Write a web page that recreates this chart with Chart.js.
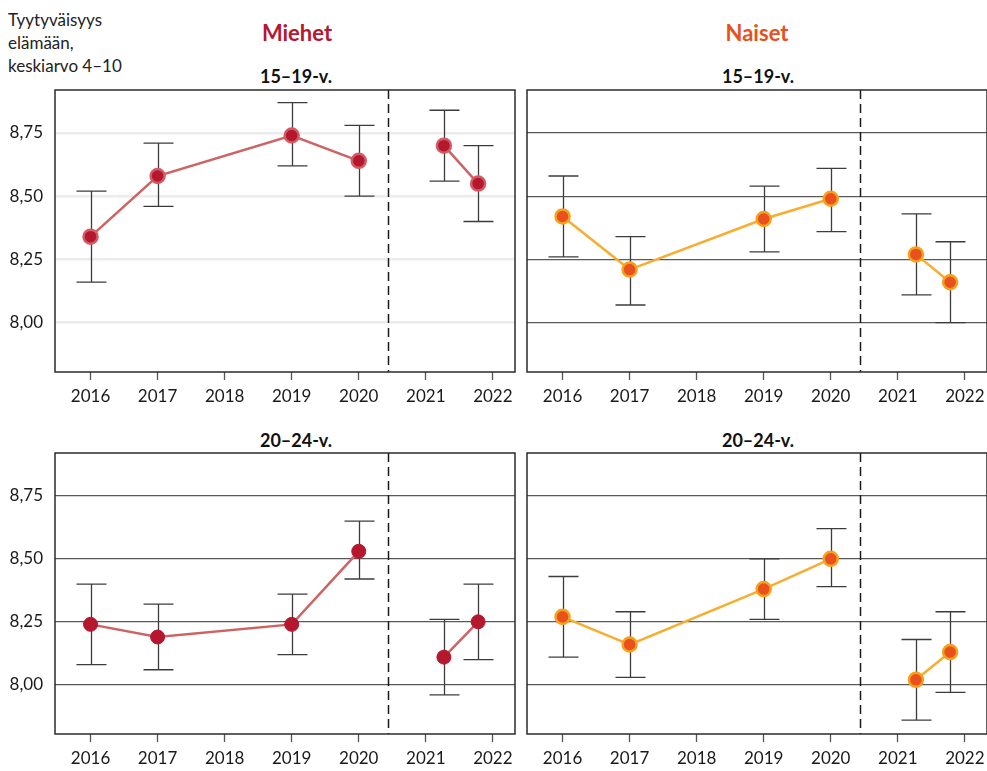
<!DOCTYPE html>
<html lang="fi">
<head>
<meta charset="utf-8">
<script src="https://cdn.jsdelivr.net/npm/chart.js@4.4.1/dist/chart.umd.min.js"></script>
<style>
  html, body { margin: 0; padding: 0; background: #fff; }
  body { width: 987px; height: 771px; position: relative; overflow: hidden; font-family: Lato, "Noto Sans", sans-serif; }
  canvas { position: absolute; }
  .txt { position: absolute; white-space: nowrap; color: #1a1a1a; }
  .ytitle { left: 8px; top: 8px; font-size: 17px; line-height: 23px; color: #222; }
  .group { font-size: 22px; font-weight: 700; transform: translateX(-50%); }
  .age { font-size: 18px; font-weight: 700; transform: translateX(-50%); color: #111; }
</style>
</head>
<body>
<div class="txt ytitle">Tyytyväisyys<br>elämään,<br>keskiarvo 4–10</div>
<div class="txt group" style="left:297px; top:19px; color:#b5172f;">Miehet</div>
<div class="txt group" style="left:757px; top:19px; color:#e8501e;">Naiset</div>
<div class="txt age" style="left:296px; top:65px;">15–19-v.</div>
<div class="txt age" style="left:758px; top:65px;">15–19-v.</div>
<div class="txt age" style="left:296px; top:429px;">20–24-v.</div>
<div class="txt age" style="left:758px; top:429px;">20–24-v.</div>

<canvas id="m1519" width="520" height="330" style="left:0px; top:85px;"></canvas>
<canvas id="n1519" width="465" height="330" style="left:522px; top:85px;"></canvas>
<canvas id="m2024" width="520" height="330" style="left:0px; top:448px;"></canvas>
<canvas id="n2024" width="465" height="330" style="left:522px; top:448px;"></canvas>

<script>
// Survey timing (years); the last two rounds fall between 2021 and 2022
const surveyYears = [2016, 2017, 2019, 2020, 2021.27, 2021.78];
const yearTicks = [2016, 2017, 2018, 2019, 2020, 2021, 2022];
const valueTicks = [8.00, 8.25, 8.50, 8.75];
const methodBreak = 2020.43;   // change of data collection, dashed divider

// Men 15–19
const men1519 = [8.34, 8.58, 8.74, 8.64, 8.70, 8.55];
const men1519Low = [8.16, 8.46, 8.62, 8.50, 8.56, 8.40];
const men1519High = [8.52, 8.71, 8.87, 8.78, 8.84, 8.70];

// Women 15–19
const women1519 = [8.42, 8.21, 8.41, 8.49, 8.27, 8.16];
const women1519Low = [8.26, 8.07, 8.28, 8.36, 8.11, 8.00];
const women1519High = [8.58, 8.34, 8.54, 8.61, 8.43, 8.32];

// Men 20–24
const men2024 = [8.24, 8.19, 8.24, 8.53, 8.11, 8.25];
const men2024Low = [8.08, 8.06, 8.12, 8.42, 7.96, 8.10];
const men2024High = [8.40, 8.32, 8.36, 8.65, 8.26, 8.40];

// Women 20–24
const women2024 = [8.27, 8.16, 8.38, 8.50, 8.02, 8.13];
const women2024Low = [8.11, 8.03, 8.26, 8.39, 7.86, 7.97];
const women2024High = [8.43, 8.29, 8.50, 8.62, 8.18, 8.29];

Chart.defaults.font.family = 'Lato, "Noto Sans", sans-serif';
Chart.defaults.color = '#1a1a1a';

const MEN = { line: '#cd6363', fill: '#b5172f' };
const WOMEN = { line: '#f9ad2e', fill: '#e8501e', border: '#f7a11a' };

// Dashed divider, confidence-interval whiskers and the panel frame
const panelDecor = {
  id: 'panelDecor',
  beforeDatasetsDraw(chart) {
    const { ctx, chartArea: a, scales: { x, y } } = chart;
    ctx.save();
    const dx = Math.round(x.getPixelForValue(methodBreak)) + 0.5;
    ctx.strokeStyle = '#1a1a1a';
    ctx.lineWidth = 1.5;
    ctx.setLineDash([9, 5]);
    ctx.beginPath();
    ctx.moveTo(dx, a.top);
    ctx.lineTo(dx, a.bottom);
    ctx.stroke();
    ctx.setLineDash([]);

    ctx.strokeStyle = '#3c3c3c';
    ctx.lineWidth = 1.3;
    chart.data.datasets[0].data.forEach(pt => {
      const px = Math.round(x.getPixelForValue(pt.x)) + 0.5;
      const pl = y.getPixelForValue(pt.lo);
      const ph = y.getPixelForValue(pt.hi);
      ctx.beginPath();
      ctx.moveTo(px, pl); ctx.lineTo(px, ph);
      ctx.moveTo(px - 15, pl); ctx.lineTo(px + 15, pl);
      ctx.moveTo(px - 15, ph); ctx.lineTo(px + 15, ph);
      ctx.stroke();
    });
    ctx.restore();
  },
  afterDraw(chart) {
    const { ctx, chartArea: a } = chart;
    ctx.save();
    ctx.strokeStyle = '#2b2b2b';
    ctx.lineWidth = 1.5;
    ctx.strokeRect(a.left, a.top, a.right - a.left, a.bottom - a.top);
    ctx.restore();
  }
};

function noPadding(s) {
  s.paddingTop = 0; s.paddingBottom = 0; s.paddingLeft = 0; s.paddingRight = 0;
}

function makePanel(id, values, low, high, palette, opts) {
  const points = surveyYears.map((yr, i) => ({ x: yr, y: values[i], lo: low[i], hi: high[i] }));
  const crossesBreak = ctx => ctx.p0.parsed.x < methodBreak && ctx.p1.parsed.x > methodBreak;
  return new Chart(document.getElementById(id), {
    type: 'line',
    data: {
      datasets: [{
        data: points,
        borderColor: palette.line,
        borderWidth: 2.5,
        tension: 0,
        pointRadius: opts.pointRadius,
        pointHoverRadius: opts.pointRadius,
        pointBackgroundColor: palette.fill,
        pointBorderColor: opts.pointBorder,
        pointBorderWidth: opts.pointBorderWidth,
        segment: { borderColor: ctx => crossesBreak(ctx) ? 'rgba(0,0,0,0)' : palette.line }
      }]
    },
    options: {
      responsive: false,
      animation: false,
      events: [],
      layout: { autoPadding: false, padding: { top: 5, right: opts.padRight, left: 0, bottom: 0 } },
      plugins: { legend: { display: false }, tooltip: { enabled: false } },
      scales: {
        x: {
          type: 'linear',
          min: 2015.47,
          max: 2022.33,
          afterBuildTicks: s => { s.ticks = yearTicks.map(v => ({ value: v })); },
          afterFit: s => { s.height = opts.xHeight; noPadding(s); },
          border: { display: false },
          grid: { drawOnChartArea: false, drawTicks: true, tickLength: 8, tickColor: '#555', tickWidth: 1.3 },
          ticks: { font: { size: 17 }, color: '#1a1a1a', padding: 6, maxRotation: 0, autoSkip: false,
                   callback: v => String(v) }
        },
        y: {
          min: 7.805,
          max: 8.92,
          afterBuildTicks: s => { s.ticks = valueTicks.map(v => ({ value: v })); },
          afterFit: s => { s.width = opts.yWidth; noPadding(s); },
          border: { display: false },
          grid: { drawTicks: false, color: opts.gridColor, lineWidth: opts.gridWidth },
          ticks: { display: opts.showY, font: { size: 17 }, color: '#1a1a1a', padding: 12,
                   callback: v => v.toFixed(2).replace('.', ',') }
        }
      }
    },
    plugins: [panelDecor]
  });
}

makePanel('m1519', men1519, men1519Low, men1519High, MEN,
  { pointRadius: 7, pointBorder: '#d25b64', pointBorderWidth: 2.5, padRight: 5, yWidth: 55, xHeight: 43,
    showY: true, gridColor: '#ececec', gridWidth: 2.5 });
makePanel('n1519', women1519, women1519Low, women1519High, WOMEN,
  { pointRadius: 7, pointBorder: WOMEN.border, pointBorderWidth: 2.5, padRight: 0, yWidth: 5, xHeight: 43,
    showY: false, gridColor: '#5a5a5a', gridWidth: 1.2 });
makePanel('m2024', men2024, men2024Low, men2024High, MEN,
  { pointRadius: 7, pointBorder: MEN.fill, pointBorderWidth: 1, padRight: 5, yWidth: 55, xHeight: 44,
    showY: true, gridColor: '#5a5a5a', gridWidth: 1.2 });
makePanel('n2024', women2024, women2024Low, women2024High, WOMEN,
  { pointRadius: 7, pointBorder: WOMEN.border, pointBorderWidth: 2.5, padRight: 0, yWidth: 5, xHeight: 44,
    showY: false, gridColor: '#5a5a5a', gridWidth: 1.2 });
</script>
</body>
</html>
